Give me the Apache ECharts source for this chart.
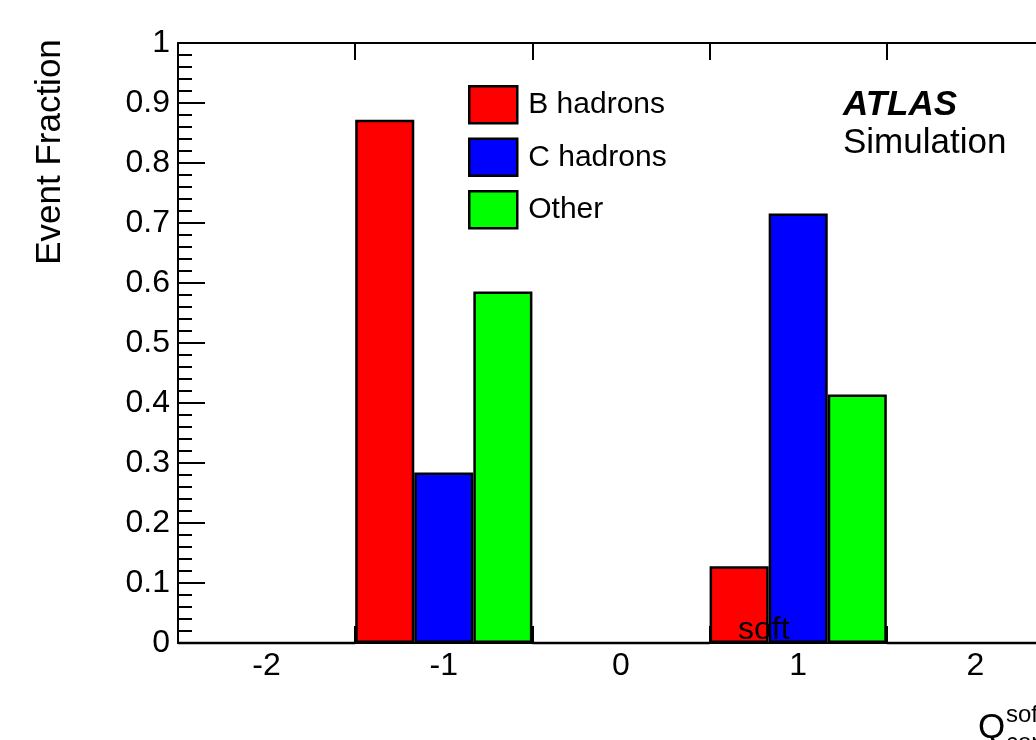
<!DOCTYPE html>
<html>
<head>
<meta charset="utf-8">
<script src="https://cdn.jsdelivr.net/npm/echarts@6/dist/echarts.min.js"></script>
<style>
  html, body { margin: 0; padding: 0; overflow: hidden; background: #fff; }
  #chart { width: 1100px; height: 740px; }
</style>
</head>
<body>
<div id="chart"></div>
<script>
// bins of Q soft (bin centres)
var categories = ['-2', '-1', '0', '1', '2'];
var bHadrons = [0, 0.872, 0, 0.128, 0];
var cHadrons = [0, 0.284, 0, 0.716, 0];
var other = [0, 0.586, 0, 0.414, 0];

var font = 'Liberation Sans, Arial, Helvetica, sans-serif';

var chart = echarts.init(document.getElementById('chart'));

function histSeries(name, data, color) {
    return {
        name: name,
        type: 'bar',
        data: data,
        barGap: '0%',
        barCategoryGap: '0%',
        itemStyle: {
            color: color,
            borderColor: '#000',
            borderWidth: 2.5
        }
    };
}

chart.setOption({
    animation: false,
    textStyle: { fontFamily: font },
    grid: { left: 178, top: 43, right: 36, bottom: 97 },
    legend: {
        orient: 'vertical',
        left: 468,
        top: 85,
        padding: 0,
        itemWidth: 48,
        itemHeight: 37,
        itemGap: 13,
        icon: 'rect',
        itemStyle: { borderColor: '#000', borderWidth: 2.5 },
        textStyle: { fontSize: 30, color: '#000', fontFamily: font, padding: [0, 0, 0, 6] },
        data: ['B hadrons', 'C hadrons', 'Other']
    },
    xAxis: [{
        type: 'category',
        data: categories,
        position: 'bottom',
        axisLine: { lineStyle: { color: '#000', width: 2 } },
        axisTick: { show: true, inside: true, length: 17, interval: 0, lineStyle: { color: '#000', width: 2 } },
        axisLabel: { fontSize: 32, color: '#000', margin: 7, fontFamily: font, interval: 0 },
        splitLine: { show: false }
    }, {
        type: 'category',
        data: categories,
        position: 'top',
        axisLine: { lineStyle: { color: '#000', width: 2 } },
        axisTick: { show: true, inside: true, length: 17, interval: 0, lineStyle: { color: '#000', width: 2 } },
        axisLabel: { show: false },
        splitLine: { show: false }
    }],
    yAxis: {
        type: 'value',
        min: 0,
        max: 1,
        interval: 0.1,
        axisLine: { show: true, lineStyle: { color: '#000', width: 2 } },
        axisTick: { show: true, inside: true, length: 27, lineStyle: { color: '#000', width: 2 } },
        minorTick: { show: true, splitNumber: 5, length: 14, lineStyle: { color: '#000', width: 2 } },
        axisLabel: { fontSize: 32, color: '#000', margin: 8, fontFamily: font },
        splitLine: { show: false }
    },
    series: [
        histSeries('B hadrons', bHadrons, '#ff0000'),
        histSeries('C hadrons', cHadrons, '#0000ff'),
        histSeries('Other', other, '#00ff00')
    ],
    graphic: [
        {
            type: 'text', x: 50, y: 152, rotation: Math.PI / 2,
            style: { text: 'Event Fraction', fontSize: 35, fontFamily: font, fill: '#000', align: 'center', verticalAlign: 'middle' }
        },
        {
            type: 'text', x: 843, y: 105,
            style: { text: 'ATLAS', fontSize: 35, fontWeight: 'bold', fontStyle: 'italic', fontFamily: font, fill: '#000', align: 'left', verticalAlign: 'middle' }
        },
        {
            type: 'text', x: 843, y: 143,
            style: { text: 'Simulation', fontSize: 35, fontFamily: font, fill: '#000', align: 'left', verticalAlign: 'middle' }
        },
        {
            // stray label left by the original plot
            type: 'text', x: 738, y: 630, z: 100,
            style: { text: 'soft', fontSize: 32, fontFamily: font, fill: '#000', align: 'left', verticalAlign: 'middle' }
        },
        {
            type: 'text', x: 978, y: 728,
            style: { text: 'Q', fontSize: 35, fontFamily: font, fill: '#000', align: 'left', verticalAlign: 'middle' }
        },
        {
            type: 'text', x: 1006, y: 715,
            style: { text: 'soft', fontSize: 24, fontFamily: font, fill: '#000', align: 'left', verticalAlign: 'middle' }
        },
        {
            type: 'text', x: 1006, y: 743,
            style: { text: 'cone', fontSize: 24, fontFamily: font, fill: '#000', align: 'left', verticalAlign: 'middle' }
        }
    ]
});
</script>
</body>
</html>
